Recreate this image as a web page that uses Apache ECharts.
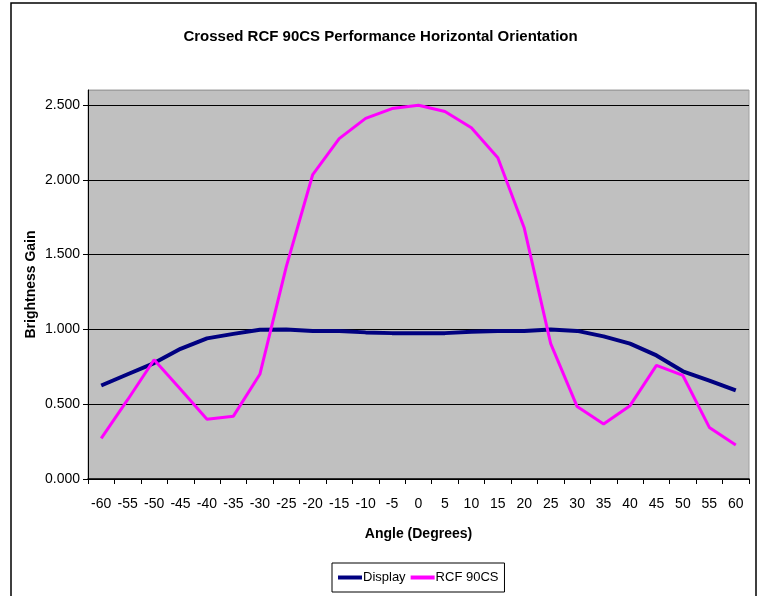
<!DOCTYPE html>
<html lang="en">
<head>
    <meta charset="UTF-8">
    <title></title>
    <script src="https://cdn.jsdelivr.net/npm/echarts@6/dist/echarts.min.js"></script>
    <style>
        html, body{
            margin: 0;
            padding: 0;
            background: #fff;
        }
        #chart{
            width: 761px;
            height: 596px;
        }
    </style>
</head>
<body>
<div id="chart"></div>

<script>
    /*角度*/
    var angles = ['-60','-55','-50','-45','-40','-35','-30','-25','-20','-15','-10','-5','0',
                  '5','10','15','20','25','30','35','40','45','50','55','60'];
    /*Display*/
    var display_data = [0.625, 0.70, 0.775, 0.87, 0.94, 0.97, 0.998, 1.0, 0.99, 0.99, 0.98, 0.975, 0.975,
                        0.975, 0.985, 0.99, 0.99, 1.0, 0.99, 0.953, 0.905, 0.826, 0.72, 0.658, 0.592];
    /*RCF 90CS*/
    var rcf_data = [0.271, 0.53, 0.797, 0.60, 0.40, 0.42, 0.70, 1.42, 2.035, 2.275, 2.41, 2.476, 2.498,
                    2.456, 2.348, 2.147, 1.677, 0.905, 0.484, 0.367, 0.49, 0.759, 0.692, 0.345, 0.228];

    var font = "'Liberation Sans', Arial, sans-serif";

    var option = {
        animation: false,
        backgroundColor: '#fff',
        title: {
            text: 'Crossed RCF 90CS Performance Horizontal Orientation',
            left: 'center',
            top: 24,
            textStyle: {
                fontFamily: font,
                fontSize: 15,
                fontWeight: 'bold',
                color: '#000'
            }
        },
        legend: {
            data: ['Display', 'RCF 90CS'],
            left: 332,
            top: 563,
            padding: [8, 6, 8, 6],
            borderColor: '#000',
            borderWidth: 1,
            itemGap: 5,
            itemWidth: 24,
            itemHeight: 4,
            icon: 'rect',
            selectedMode: false,
            textStyle: {
                fontFamily: font,
                fontSize: 13,
                color: '#000',
                padding: [0, 0, 0, -4]
            }
        },
        graphic: [
            {
                type: 'rect',
                shape: {x: 11, y: 3, width: 745, height: 620},
                style: {fill: 'none', stroke: '#000', lineWidth: 1.5},
                silent: true
            }
        ],
        grid: {
            left: 88,
            right: 12,
            top: 90,
            bottom: 117,
            show: true,
            backgroundColor: '#c0c0c0',
            borderColor: '#a0a0a0',
            borderWidth: 1
        },
        xAxis: {
            type: 'category',
            data: angles,
            boundaryGap: true,
            name: 'Angle (Degrees)',
            nameLocation: 'middle',
            nameGap: 48,
            nameTextStyle: {
                fontFamily: font,
                fontSize: 14,
                fontWeight: 'bold',
                color: '#000'
            },
            axisLine: {lineStyle: {color: '#000', width: 1.5}},
            axisTick: {show: true, length: 5, lineStyle: {color: '#000'}},
            axisLabel: {
                interval: 0,
                margin: 18,
                fontFamily: font,
                fontSize: 14,
                color: '#000'
            },
            splitLine: {show: false}
        },
        yAxis: {
            type: 'value',
            min: 0,
            max: 2.6,
            interval: 0.5,
            name: 'Brightness Gain',
            nameLocation: 'middle',
            nameGap: 50,
            nameMoveOverlap: false,
            nameTextStyle: {
                fontFamily: font,
                fontSize: 14,
                fontWeight: 'bold',
                color: '#000'
            },
            axisLine: {show: true, lineStyle: {color: '#000', width: 1}},
            axisTick: {show: true, length: 5, lineStyle: {color: '#000'}},
            axisLabel: {
                showMaxLabel: false,
                margin: 8,
                fontFamily: font,
                fontSize: 14,
                color: '#000',
                formatter: function (v) {
                    return v.toFixed(3);
                }
            },
            splitLine: {
                show: true,
                lineStyle: {
                    color: ['#000', '#000', '#000', '#000', '#000', '#000', '#a0a0a0'],
                    width: 1.2
                }
            }
        },
        series: [
            {
                name: 'Display',
                type: 'line',
                data: display_data,
                showSymbol: false,
                symbol: 'none',
                itemStyle: {color: '#000080'},
                lineStyle: {color: '#000080', width: 4}
            },
            {
                name: 'RCF 90CS',
                type: 'line',
                data: rcf_data,
                showSymbol: false,
                symbol: 'none',
                itemStyle: {color: '#ff00ff'},
                lineStyle: {color: '#ff00ff', width: 3}
            }
        ]
    };
    var chart = echarts.init(document.getElementById('chart'));
    chart.setOption(option);
</script>
</body>
</html>
